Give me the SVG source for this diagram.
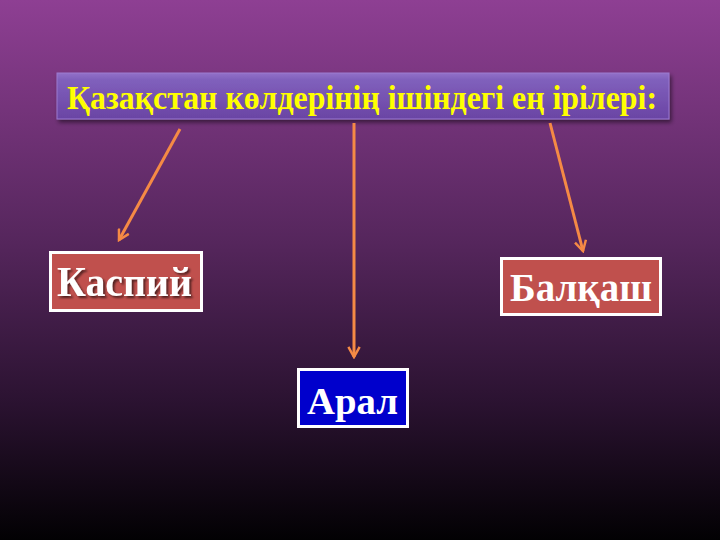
<svg xmlns="http://www.w3.org/2000/svg" width="720" height="540" viewBox="0 0 720 540">
<defs>
<linearGradient id="bg" x1="0" y1="0" x2="0" y2="1">
<stop offset="0" stop-color="#8e3f93"/>
<stop offset="0.45" stop-color="#55265c"/>
<stop offset="0.75" stop-color="#2a1230"/>
<stop offset="1" stop-color="#020103"/>
</linearGradient>
<linearGradient id="tb" x1="0" y1="0" x2="0" y2="1">
<stop offset="0" stop-color="#9270c8"/>
<stop offset="0.15" stop-color="#8060bc"/>
<stop offset="1" stop-color="#6a44a4"/>
</linearGradient>
<filter id="sh" x="-10%" y="-20%" width="120%" height="150%">
<feDropShadow dx="2" dy="3" stdDeviation="2" flood-color="#000" flood-opacity="0.5"/>
</filter>
<filter id="ts" x="-10%" y="-20%" width="120%" height="150%">
<feDropShadow dx="2" dy="2" stdDeviation="1" flood-color="#000" flood-opacity="0.6"/>
</filter>
<marker id="ah" viewBox="0 0 12 12" refX="10" refY="6" markerWidth="4.5" markerHeight="4.5" orient="auto" markerUnits="strokeWidth">
<path d="M1,1 L10,6 L1,11" fill="none" stroke="#f58a45" stroke-width="2.2"/>
</marker>
<style>
.conn{stroke:#f58a45;stroke-width:3;fill:none;marker-end:url(#ah)}
.box{stroke:#ffffff;stroke-width:3}
.lbl{font-family:"Liberation Serif","Times New Roman",serif;font-weight:bold;fill:#ffffff}
</style>
</defs>
<rect width="720" height="540" fill="url(#bg)"/>
<g id="title">
<rect x="57" y="73" width="612" height="46" fill="url(#tb)" stroke="#9b7ad0" stroke-width="1" filter="url(#sh)"/>
<text x="362" y="109" text-anchor="middle" font-family="'Liberation Serif','Times New Roman',serif" font-weight="bold" font-size="33" fill="#ffff00" textLength="590" lengthAdjust="spacingAndGlyphs">Қазақстан көлдерінің ішіндегі ең ірілері:</text>
</g>
<g id="connectors">
<line class="conn" x1="180" y1="129" x2="119" y2="240"/>
<line class="conn" x1="354" y1="123" x2="354" y2="357"/>
<line class="conn" x1="550" y1="123" x2="583" y2="251"/>
</g>
<g id="kaspiy">
<rect class="box" x="50.5" y="252.5" width="151" height="58" fill="#c0504d"/>
<text class="lbl" x="124.5" y="296" text-anchor="middle" font-size="42" textLength="135" lengthAdjust="spacingAndGlyphs" filter="url(#ts)">Каспий</text>
</g>
<g id="balkash">
<rect class="box" x="501.5" y="258.5" width="159" height="56" fill="#c0504d"/>
<text class="lbl" x="581" y="301" text-anchor="middle" font-size="39" textLength="142" lengthAdjust="spacingAndGlyphs">Балқаш</text>
</g>
<g id="aral">
<rect class="box" x="298.5" y="369.5" width="109" height="57" fill="#0000cc"/>
<text class="lbl" x="352.5" y="414" text-anchor="middle" font-size="38" textLength="91" lengthAdjust="spacingAndGlyphs">Арал</text>
</g>
</svg>
